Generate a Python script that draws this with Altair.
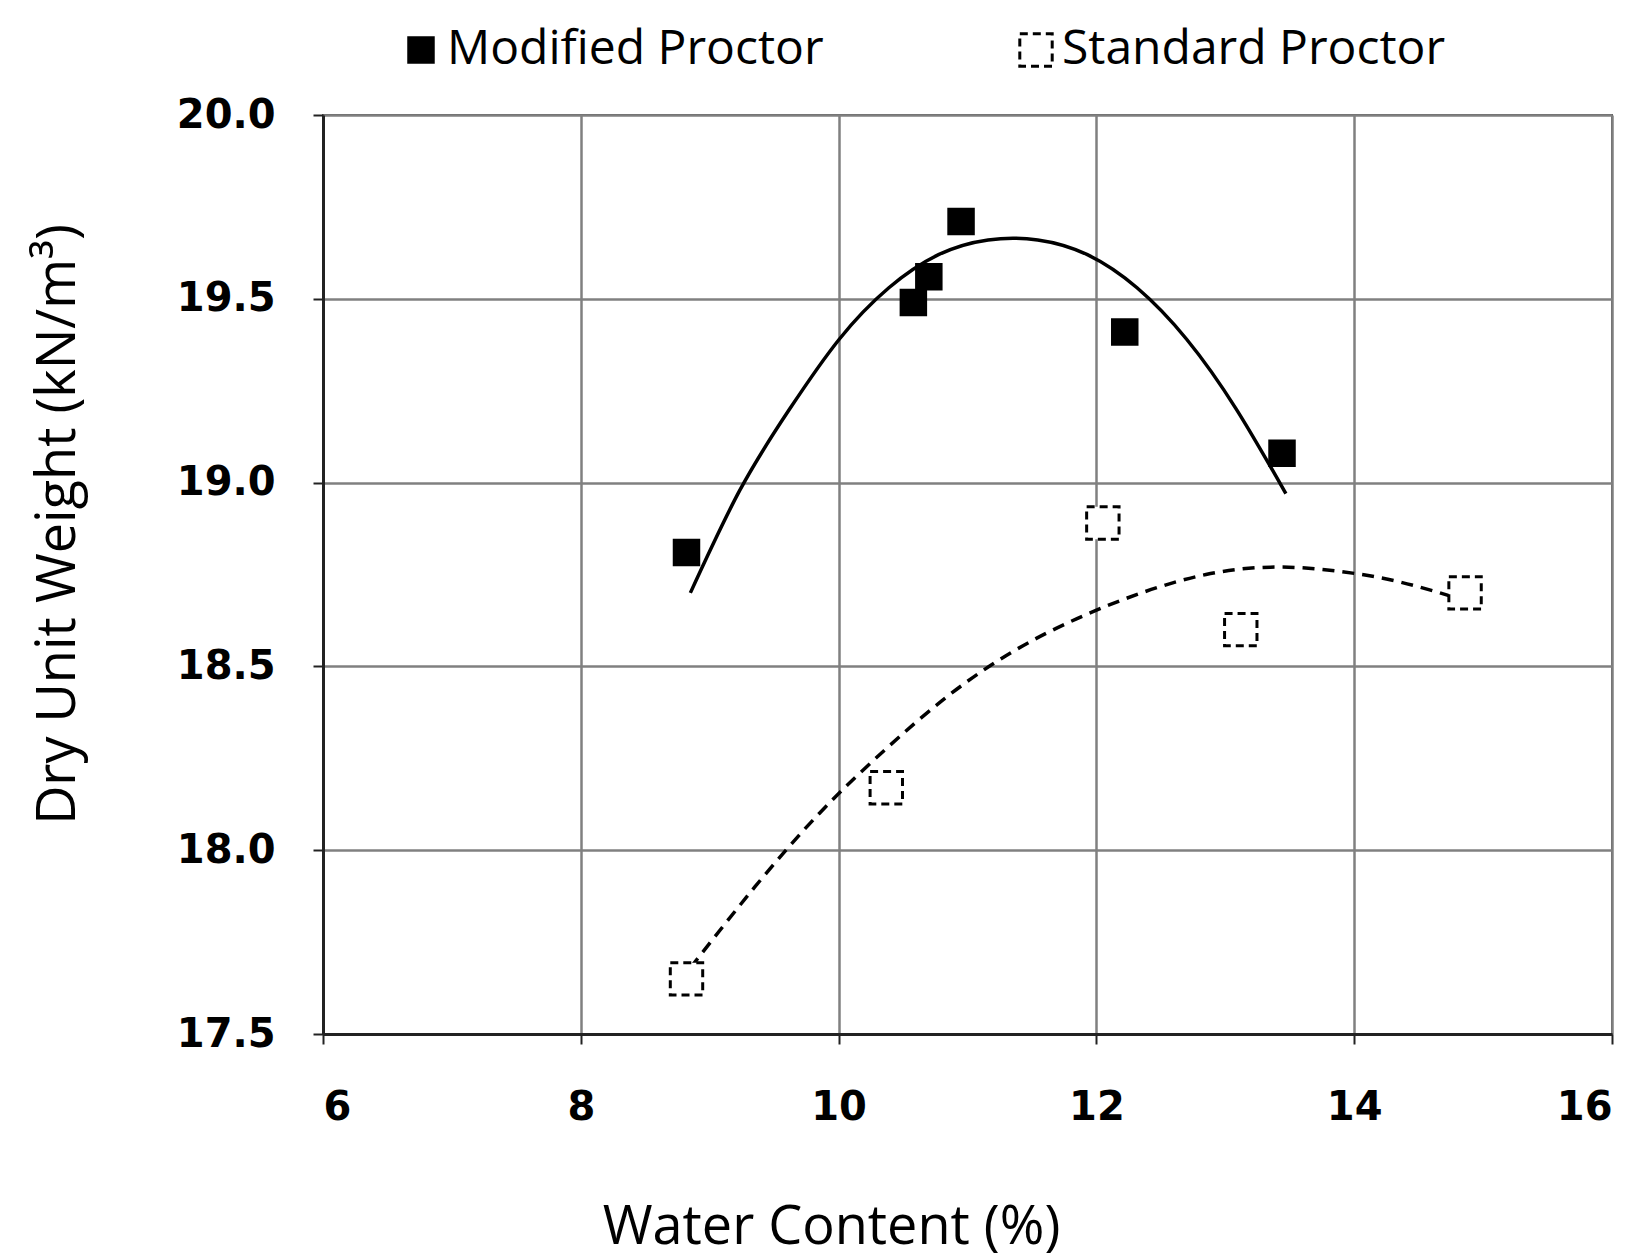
import altair as alt
import pandas as pd

# Modified Proctor readings
mod_w = [8.82, 10.58, 10.70, 10.95, 12.22, 13.44]
mod_g = [18.81, 19.49, 19.56, 19.71, 19.41, 19.08]
# Standard Proctor readings
std_w = [8.82, 10.37, 12.05, 13.12, 14.86]
std_g = [17.65, 18.17, 18.89, 18.60, 18.70]

# Trend curves (read at evenly spaced water contents)
mod_curve_w = [8.85, 9.235, 9.62, 10.005, 10.39, 10.775, 11.16, 11.545, 11.93, 12.315, 12.70, 13.085, 13.47]
mod_curve_g = [18.70, 18.98, 19.20, 19.39, 19.53, 19.62, 19.66, 19.66, 19.62, 19.53, 19.39, 19.20, 18.97]
std_curve_w = [8.85, 9.35, 9.85, 10.35, 10.85, 11.35, 11.85, 12.35, 12.85, 13.35, 13.85, 14.35, 14.85]
std_curve_g = [17.68, 17.90, 18.10, 18.27, 18.42, 18.54, 18.63, 18.70, 18.75, 18.77, 18.76, 18.73, 18.68]

series_names = ["Modified Proctor", "Standard Proctor"]
x_ticks = [6, 8, 10, 12, 14, 16]
y_ticks = [17.5, 18.0, 18.5, 19.0, 19.5, 20.0]

pts = pd.DataFrame({
    "w": mod_w + std_w,
    "g": mod_g + std_g,
    "series": [series_names[0]] * len(mod_w) + [series_names[1]] * len(std_w),
})
mod_curve = pd.DataFrame({"w": mod_curve_w, "g": mod_curve_g})
std_curve = pd.DataFrame({"w": std_curve_w, "g": std_curve_g})

TITLE_FONT = "Open Sans"
LABEL_FONT = "DejaVu Sans"

x_enc = alt.X("w:Q", scale=alt.Scale(domain=[6, 16], nice=False, zero=False),
              axis=alt.Axis(values=x_ticks, title="Water Content (%)", format="d",
                            titleX=508, titleY=209, titleAlign="center",
                            titleBaseline="alphabetic", labelPadding=43))
y_enc = alt.Y("g:Q", scale=alt.Scale(domain=[17.5, 20], nice=False, zero=False),
              axis=alt.Axis(values=y_ticks, title="Dry Unit Weight (kN/m³)", format=".1f",
                            titleX=-265, titleY=409, titleAlign="center",
                            titleBaseline="middle", labelPadding=38))

legend_def = alt.Legend(title=None, orient="none", direction="horizontal",
                        legendX=74, legendY=-89, columnPadding=188,
                        symbolType="square", symbolStrokeWidth=3,
                        labelFont=TITLE_FONT, labelFontSize=48,
                        labelColor="black", labelOffset=2, padding=0,
                        labelLimit=600)

points = alt.Chart(pts).mark_point(
    shape="square", strokeWidth=3, opacity=1, fillOpacity=1
).encode(
    x=x_enc, y=y_enc,
    fill=alt.Fill("series:N", scale=alt.Scale(domain=series_names, range=["black", "white"]),
                  legend=legend_def),
    stroke=alt.Stroke("series:N", scale=alt.Scale(domain=series_names, range=["black", "black"]),
                      legend=legend_def),
    strokeDash=alt.StrokeDash("series:N",
                              scale=alt.Scale(domain=series_names, range=[[1, 0], [8, 5]]),
                              legend=legend_def),
    size=alt.Size("series:N", scale=alt.Scale(domain=series_names, range=[600, 1050]),
                  legend=legend_def),
)

mod_line = alt.Chart(mod_curve).mark_line(
    color="black", strokeWidth=3.5, interpolate="natural"
).encode(x="w:Q", y="g:Q")

std_line = alt.Chart(std_curve).mark_line(
    color="black", strokeWidth=3.5, strokeDash=[12, 8], interpolate="natural"
).encode(x="w:Q", y="g:Q")

chart = alt.layer(mod_line, std_line, points).properties(
    width=1289, height=919,
    autosize=alt.AutoSizeParams(type="none"),
    padding={"left": 323, "top": 115, "right": 33, "bottom": 224},
    background="white",
).configure_view(
    stroke="#555555", strokeWidth=2
).configure_axis(
    grid=True, gridColor="#808080", gridWidth=2.5,
    domainColor="#222222", domainWidth=3,
    tickColor="#222222", tickWidth=2, tickSize=10,
    labelFont=LABEL_FONT, labelFontSize=40, labelFontWeight="bold", labelColor="black",
    titleFont=TITLE_FONT, titleFontSize=54, titleFontWeight="normal", titleColor="black",
)

chart.save("out.html", embed_options={"renderer": "svg", "actions": False})
